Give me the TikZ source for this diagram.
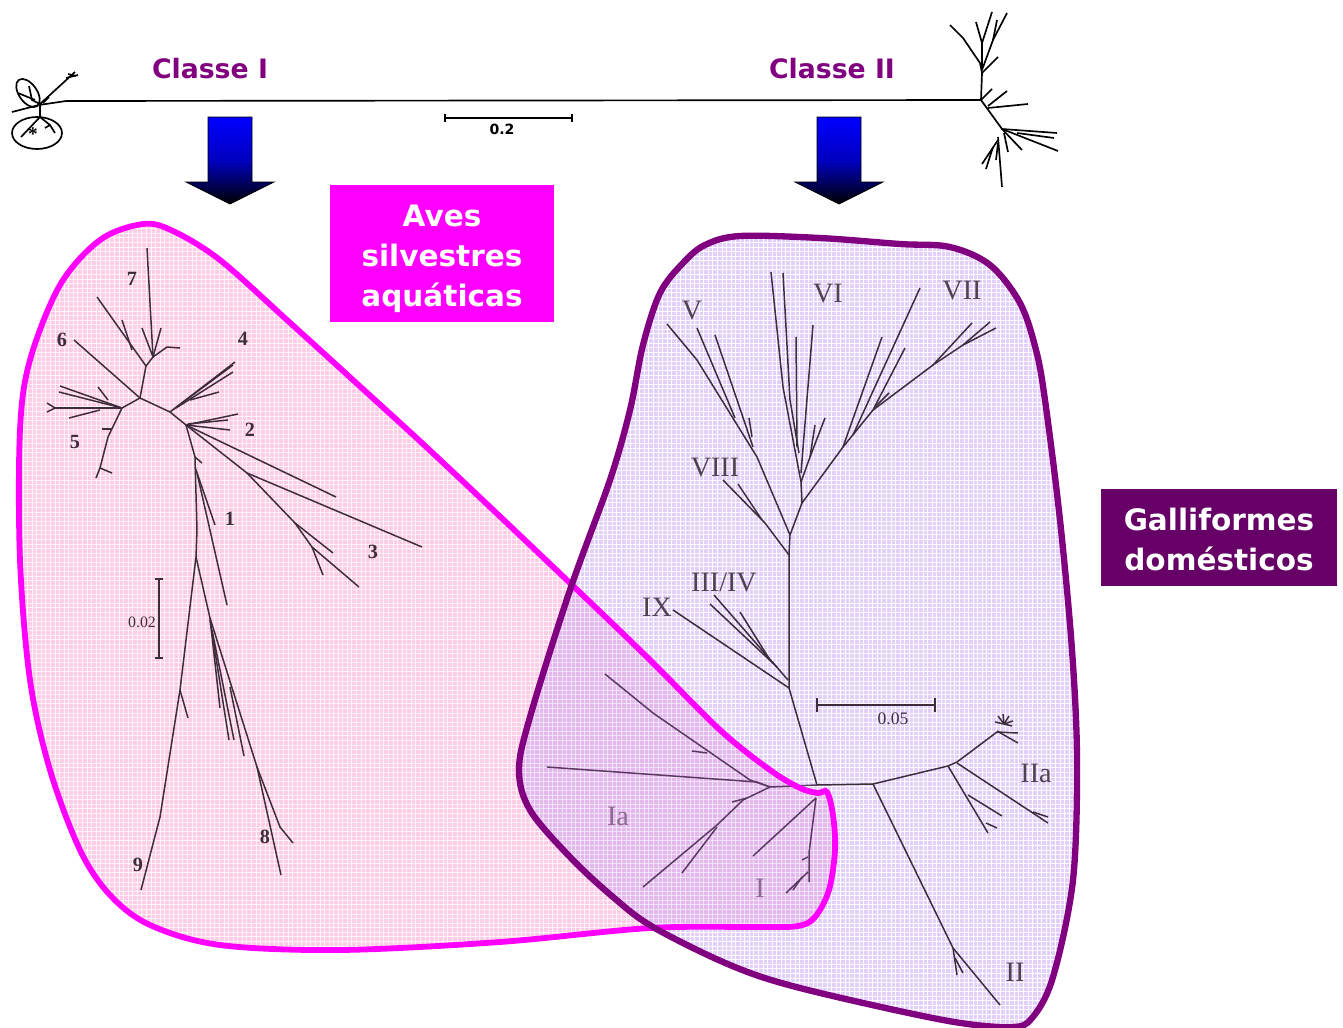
\documentclass[tikz,border=0pt]{standalone}
\usepackage{fontspec}
\setmainfont{Liberation Serif}
\setsansfont{DejaVu Sans}
\usetikzlibrary{arrows.meta,positioning,patterns.meta}
\definecolor{classpurple}{HTML}{800080}
\definecolor{boxmagenta}{HTML}{FF00FF}
\definecolor{boxplum}{HTML}{660066}
\definecolor{pinkfill}{HTML}{FF0080}
\definecolor{lilacfill}{HTML}{E2CFFB}
\definecolor{inkgrey}{HTML}{3C2C3C}
\definecolor{inkmauve}{HTML}{5A3A60}
\definecolor{labelmauve}{HTML}{8A6A90}
\newcommand{\pinkblob}{plot[smooth cycle,tension=.55] coordinates {(143,224) (173,231) (220,260) (287,320) (353,380) (437,457) (570,583) (650,660) (720,730) (770,770) (800,788) (818,793) (827,792) (833,815) (835,850) (829,890) (815,917) (798,926) (760,927) (650,928) (500,942) (340,950) (220,945) (150,925) (110,895) (80,850) (50,770) (30,680) (20,560) (20,430) (30,360) (60,285) (100,240)}}
\newcommand{\lilacblob}{plot[smooth cycle,tension=.55] coordinates {(740,236) (820,238) (900,244) (950,247) (990,265) (1020,303) (1036,350) (1045,400) (1060,520) (1072,650) (1077,760) (1073,880) (1053,977) (1032,1018) (1010,1027) (943,1020) (800,988) (730,965) (653,927) (613,897) (570,857) (530,810) (519,770) (530,717) (570,590) (610,480) (630,410) (643,345) (660,293) (683,263) (705,245)}}
\begin{document}
\begin{tikzpicture}[
  x=0.02cm, y=-0.02cm,
  branch/.style={draw=inkgrey, line width=0.85pt, line join=round},
  inkfaint/.style={draw=inkmauve, line width=0.85pt, line join=round},
  toptree/.style={draw=black, line width=0.95pt, line join=round},
  cladelabel/.style={text=inkgrey!90, font=\fontsize{16}{16}\selectfont, inner sep=0pt},
  numlabel/.style={text=inkgrey, font=\fontsize{11.5}{11.5}\selectfont\bfseries, inner sep=0pt},
  classlabel/.style={text=classpurple, font=\fontsize{15.2}{15.2}\selectfont\sffamily\bfseries, inner sep=0pt},
  hostlabel/.style={align=center, text=white, inner sep=0pt, font=\fontsize{16.8}{22.8}\selectfont\sffamily\bfseries},
  downarrow/.style={draw=black, line width=0.5pt, top color=blue, bottom color=black, middle color=blue!75!black},
  meshfill/.style={pattern={Lines[angle=0,distance=2.6pt,line width=0.28pt]}, pattern color=white},
  meshcross/.style={pattern={Lines[angle=90,distance=2.6pt,line width=0.28pt]}, pattern color=white}
]
\useasboundingbox (0,0) rectangle (1343,1028);
\fill[white] (0,0) rectangle (1343,1028);

\fill[lilacfill] \lilacblob;
\path[meshfill] \lilacblob;
\path[meshcross] \lilacblob;

% right tree, classes above the overlap
\draw[branch] (789,555) -- (789,688) -- (817,785) -- (873,784) -- (948,766) -- (957,762) -- (997,732);
\draw[branch] (789,555) -- (790,535) -- (757,457) -- (697,360) -- (667,324);
\draw[branch] (735,418) -- (697,328);
\draw[branch] (753,447) -- (715,335);
\draw[branch] (752,437) -- (749,418);
\draw[branch] (790,535) -- (802,503) -- (801,482) -- (783,387) -- (771,272);
\draw[branch] (799,453) -- (790,400) -- (783,273);
\draw[branch] (796,337) -- (797,447);
\draw[branch] (813,325) -- (801,473);
\draw[branch] (801,482) -- (810,457) -- (825,418);
\draw[branch] (810,457) -- (815,425);
\draw[branch] (802,503) -- (843,447) -- (873,410) -- (933,365) -- (963,345) -- (996,328);
\draw[branch] (963,345) -- (990,322);
\draw[branch] (933,365) -- (972,323);
\draw[branch] (843,447) -- (882,337);
\draw[branch] (853,435) -- (920,288);
\draw[branch] (873,410) -- (905,348);
\draw[branch] (875,407) -- (889,393);
\draw[branch] (789,555) -- (765,523) -- (723,480);
\draw[branch] (762,520) -- (738,484);
\draw[branch] (673,610) -- (789,688);
\draw[branch] (714,595) -- (788,680);
\draw[branch] (710,604) -- (777,667);
\draw[branch] (740,612) -- (770,660);
\draw[branch] (997,732) -- (1018,733);
\draw[branch] (997,731) -- (1018,743);
\foreach \tipx/\tipy in {998/716,1003/714,1009/716,1013/721,1012/726,995/722}
  \draw[branch] (1004,724) -- (\tipx,\tipy);
\draw[branch] (957,763) -- (1048,823);
\draw[branch] (1033,812) -- (1048,817);
\draw[branch] (948,766) -- (988,833);
\draw[branch] (968,795) -- (1002,816);
\draw[branch] (986,823) -- (997,828);
\draw[branch] (873,784) -- (953,948) -- (1000,1005);
\draw[branch] (953,948) -- (957,975);
\draw[branch] (955,958) -- (963,973);
\draw[branch] (817,698) -- (817,712);
\draw[branch] (935,698) -- (935,712);
\draw[branch] (817,705) -- (935,705);

\fill[pinkfill, fill opacity=0.2] \pinkblob;
\begin{scope}[opacity=0.8]
\path[meshfill] \pinkblob;
\path[meshcross] \pinkblob;
\end{scope}
\begin{scope}
\clip \pinkblob;
\fill[lilacfill, fill opacity=0.45] \lilacblob;
\end{scope}

% classes inside the overlap
\draw[inkfaint] (817,785) -- (770,787) -- (757,782) -- (547,767);
\draw[inkfaint] (770,787) -- (750,780) -- (653,713) -- (605,674);
\draw[inkfaint] (692,751) -- (707,753);
\draw[inkfaint] (770,787) -- (743,800) -- (717,825) -- (643,887);
\draw[inkfaint] (717,827) -- (682,873);
\draw[inkfaint] (732,802) -- (747,798);
\draw[inkfaint] (816,798) -- (753,856);
\draw[inkfaint] (816,798) -- (809,853) -- (809,882);
\draw[inkfaint] (802,860) -- (808,857);
\draw[inkfaint] (808,872) -- (786,893);
\draw[inkfaint] (802,877) -- (793,890);

% left tree
\draw[branch] (140,398) -- (146,366) -- (153,357) -- (147,248);
\draw[branch] (142,328) -- (153,357) -- (161,328);
\draw[branch] (153,357) -- (167,347) -- (180,348);
\draw[branch] (146,366) -- (97,297);
\draw[branch] (122,320) -- (132,350);
\draw[branch] (140,398) -- (74,340);
\draw[branch] (140,398) -- (170,412) -- (186,425);
\draw[branch] (170,412) -- (235,362);
\draw[branch] (174,409) -- (233,365);
\draw[branch] (176,408) -- (233,372);
\draw[branch] (190,400) -- (219,392);
\draw[branch] (140,398) -- (122,408) -- (60,386);
\draw[branch] (122,408) -- (59,392);
\draw[branch] (98,387) -- (108,400);
\draw[branch] (122,408) -- (55,408);
\draw[branch] (47,403) -- (55,408) -- (47,412);
\draw[branch] (69,418) -- (100,410);
\draw[branch] (122,408) -- (108,437) -- (100,468) -- (96,478);
\draw[branch] (100,468) -- (112,473);
\draw[branch] (102,429) -- (112,429);
\draw[branch] (186,425) -- (238,414);
\draw[branch] (188,424) -- (228,420);
\draw[branch] (186,425) -- (230,430);
\draw[branch] (186,425) -- (336,497);
\draw[branch] (186,425) -- (247,473) -- (422,547);
\draw[branch] (247,473) -- (295,523) -- (333,553);
\draw[branch] (295,523) -- (312,547) -- (359,587);
\draw[branch] (312,547) -- (323,575);
\draw[branch] (186,425) -- (195,457) -- (197,530) -- (196,557);
\draw[branch] (195,457) -- (202,463);
\draw[branch] (195,467) -- (215,525);
\draw[branch] (197,473) -- (227,605);
\draw[branch] (196,557) -- (180,690) -- (160,817) -- (141,890);
\draw[branch] (180,690) -- (188,718);
\draw[branch] (196,557) -- (210,618) -- (257,767) -- (280,827) -- (293,843);
\draw[branch] (210,618) -- (220,708);
\draw[branch] (210,620) -- (229,740);
\draw[branch] (212,630) -- (234,740);
\draw[branch] (230,687) -- (244,756);
\draw[branch] (257,767) -- (281,875);
\draw[branch] (159,579) -- (159,658);
\draw[branch] (155,579) -- (163,579);
\draw[branch] (155,658) -- (163,658);

\draw[boxmagenta, line width=3.3pt] \pinkblob;
\draw[classpurple, line width=3.6pt] \lilacblob;

% upper tree
\draw[toptree] (12,112) -- (39,105) -- (66,101) -- (981,100);
\draw[toptree] (40,104) -- (75,72);
\draw[toptree] (66,78) -- (78,75);
\draw[toptree] (68,74) -- (76,76);
\draw[toptree] (43,103) -- (49,97);
\draw[toptree] (40,105) -- (40,117) -- (50,125) -- (55,133);
\draw[toptree] (40,117) -- (21,137);
\draw[toptree] (50,125) -- (45,128);
\draw[toptree] (29,86) -- (32,100) -- (40,104);
\draw[toptree] (18,93) -- (35,100);
\draw[toptree, rotate around={35:(28,93)}] (28,93) ellipse (9 and 16);
\draw[toptree] (37,133) ellipse (25 and 16);
\draw[toptree] (981,100) -- (982,73) -- (980,63) -- (963,38) -- (950,25);
\draw[toptree] (982,70) -- (982,43) -- (976,22);
\draw[toptree] (982,43) -- (992,12);
\draw[toptree] (982,70) -- (993,40) -- (1007,13);
\draw[toptree] (993,40) -- (997,20);
\draw[toptree] (982,73) -- (998,57);
\draw[toptree] (981,100) -- (992,89);
\draw[toptree] (988,106) -- (1007,91);
\draw[toptree] (988,108) -- (1028,104);
\draw[toptree] (981,100) -- (1002,129) -- (1057,133);
\draw[toptree] (1017,133) -- (1054,138);
\draw[toptree] (1002,129) -- (1058,151);
\draw[toptree] (1002,129) -- (1022,150);
\draw[toptree] (1004,133) -- (1008,152);
\draw[toptree] (998,137) -- (1002,187);
\draw[toptree] (998,140) -- (982,164);
\draw[toptree] (993,147) -- (986,169);
\draw[toptree] (998,143) -- (996,160);
\draw[toptree] (445,114) -- (445,122);
\draw[toptree] (572,114) -- (572,122);
\draw[toptree] (445,118) -- (572,118);

\node[inner sep=0pt, font=\fontsize{11}{11}\selectfont\bfseries] (star) at (33,134) {*};
\node[inner sep=0pt, font=\fontsize{8}{8}\selectfont\sffamily\bfseries] (topscale) at (502,129) {0.2};

\node[classlabel] (classone) at (210,69) {Classe I};
\node[classlabel] (classtwo) at (832,69) {Classe II};

\path[downarrow] (208,117) -- (252,117) -- (252,182) -- (274,182) -- (230,204) -- (186,182) -- (208,182) -- cycle;
\path[downarrow] (817,117) -- (861,117) -- (861,182) -- (883,182) -- (839,204) -- (795,182) -- (817,182) -- cycle;

\node[fill=boxmagenta, inner sep=0pt, minimum width=224*0.02cm, minimum height=137*0.02cm] (avesbox) at (442,253.5) {};
\node[hostlabel] (aves) at (442,259) {Aves\\silvestres\\aquáticas};
\node[fill=boxplum, inner sep=0pt, minimum width=236*0.02cm, minimum height=97*0.02cm] (gallibox) at (1219,537.5) {};
\node[hostlabel] (galli) at (1219,539.5) {Galliformes\\domésticos};

\node[numlabel] (seven) at (132,279) {7};
\node[numlabel] (six) at (62,340) {6};
\node[numlabel] (four) at (243,339) {4};
\node[numlabel] (five) at (75,442) {5};
\node[numlabel] (two) at (250,430) {2};
\node[numlabel] (one) at (230,519) {1};
\node[numlabel] (three) at (373,552) {3};
\node[numlabel] (nine) at (138,865) {9};
\node[numlabel] (eight) at (265,837) {8};
\node[text=inkgrey, inner sep=0pt, font=\fontsize{9}{9}\selectfont] (leftscale) at (142,622) {0.02};
\node[text=inkgrey, inner sep=0pt, font=\fontsize{10}{10}\selectfont] (rightscale) at (893,719) {0.05};

\node[cladelabel] (cladeV) at (692,311) {V};
\node[cladelabel] (cladeVI) at (828,294) {VI};
\node[cladelabel] (cladeVII) at (962,291) {VII};
\node[cladelabel] (cladeVIII) at (715,468) {VIII};
\node[cladelabel] (cladeIIIIV) at (724,582) {III/IV};
\node[cladelabel] (cladeIX) at (657,607) {IX};
\node[cladelabel, text=labelmauve] (cladeIa) at (618,816) {Ia};
\node[cladelabel, text=labelmauve] (cladeI) at (760,888) {I};
\node[cladelabel] (cladeIIa) at (1036,773) {IIa};
\node[cladelabel] (cladeII) at (1015,972) {II};
\end{tikzpicture}
\end{document}
